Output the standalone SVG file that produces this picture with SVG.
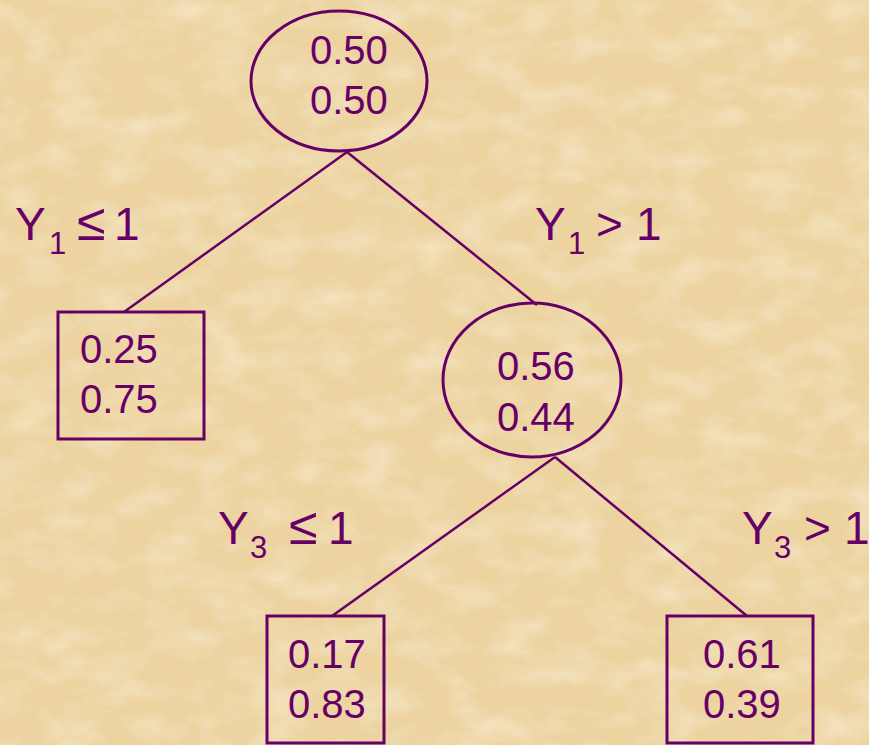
<svg xmlns="http://www.w3.org/2000/svg" width="869" height="745" viewBox="0 0 869 745">
<defs>
<filter id="tex" x="0" y="0" width="100%" height="100%">
<feTurbulence type="fractalNoise" baseFrequency="0.02 0.035" numOctaves="4" seed="7" result="n"/>
<feColorMatrix type="matrix" values="0 0 0 0 0.97  0 0 0 0 0.90  0 0 0 0 0.76  0 0 0 -1.6 0.95"/>
</filter>
<style>
.n{font-family:"Liberation Sans",Arial,sans-serif;font-size:40px;fill:#660066}
.l{font-family:"Liberation Sans",Arial,sans-serif;font-size:46px;fill:#660066}
.s{font-size:31px}
.le{font-size:52px}
.sh{fill:none;stroke:#660066;stroke-width:3}
.c{stroke:#660066;stroke-width:2.5;fill:none}
</style>
</defs>
<rect width="869" height="745" fill="#ECD3A0"/>
<rect width="869" height="745" filter="url(#tex)" opacity="0.6"/>
<g id="connectors">
<line class="c" x1="347" y1="152" x2="124" y2="312"/>
<line class="c" x1="347" y1="152" x2="537" y2="305"/>
<line class="c" x1="555" y1="457" x2="332" y2="616"/>
<line class="c" x1="555" y1="457" x2="747" y2="616"/>
</g>
<g id="root">
<ellipse class="sh" cx="339" cy="81" rx="88" ry="70"/>
<text class="n" x="310" y="64">0.50</text>
<text class="n" x="310" y="114">0.50</text>
</g>
<g id="leafL">
<rect class="sh" x="58" y="312" width="146" height="127"/>
<text class="n" x="80" y="363">0.25</text>
<text class="n" x="80" y="413">0.75</text>
</g>
<g id="mid">
<ellipse class="sh" cx="532" cy="380" rx="89" ry="77"/>
<text class="n" x="497" y="380">0.56</text>
<text class="n" x="497" y="431">0.44</text>
</g>
<g id="leafLL">
<rect class="sh" x="267" y="616" width="117" height="127"/>
<text class="n" x="288" y="668">0.17</text>
<text class="n" x="288" y="718">0.83</text>
</g>
<g id="leafLR">
<rect class="sh" x="667" y="616" width="146" height="127"/>
<text class="n" x="703" y="668">0.61</text>
<text class="n" x="703" y="718">0.39</text>
</g>
<g id="labels">
<text class="l" x="15" y="240">Y</text><text class="l s" x="49" y="254">1</text><text class="l le" x="77" y="240">≤</text><text class="l" x="114" y="240">1</text>
<text class="l" x="535" y="240">Y</text><text class="l s" x="568" y="254">1</text><text class="l" x="596" y="240">&gt;</text><text class="l" x="636" y="240">1</text>
<text class="l" x="218" y="544">Y</text><text class="l s" x="250" y="558">3</text><text class="l le" x="289" y="544">≤</text><text class="l" x="328" y="544">1</text>
<text class="l" x="742" y="544">Y</text><text class="l s" x="774" y="558">3</text><text class="l" x="804" y="544">&gt;</text><text class="l" x="844" y="544">1</text>
</g>
</svg>
